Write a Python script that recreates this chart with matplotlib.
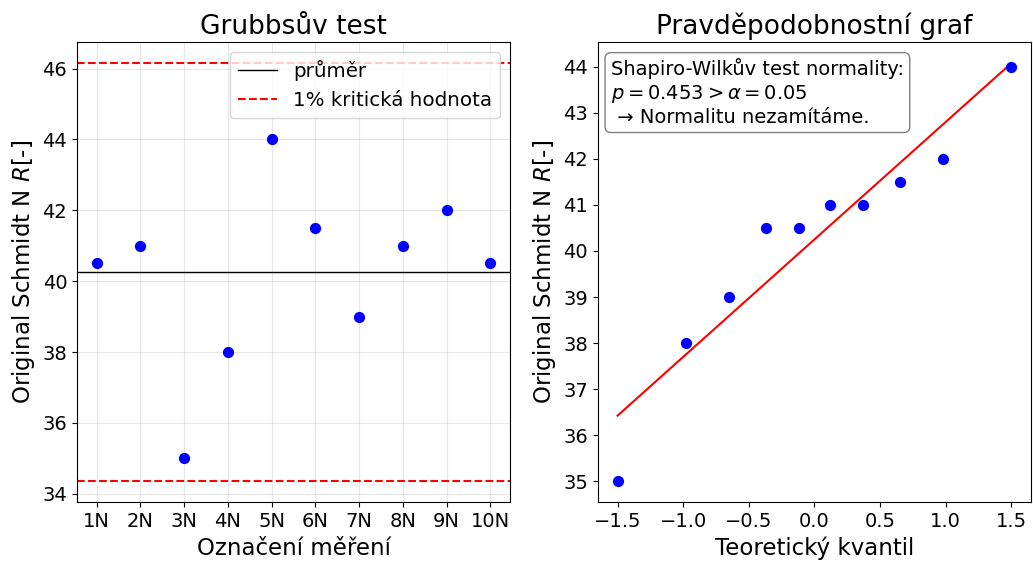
import numpy as np
import matplotlib
matplotlib.use("Agg")
import matplotlib.pyplot as plt

# Measured rebound values (Original Schmidt N)
labels = ["1N", "2N", "3N", "4N", "5N", "6N", "7N", "8N", "9N", "10N"]
values = [40.5, 41.0, 35.0, 38.0, 44.0, 41.5, 39.0, 41.0, 42.0, 40.5]

# Grubbs test limits
crit_upper = 46.15
crit_lower = 34.35

# Theoretical normal quantiles for n = 10
quantiles = [-1.50, -0.98, -0.65, -0.37, -0.12, 0.12, 0.37, 0.65, 0.98, 1.50]

plt.rcParams["font.family"] = ["DejaVu Sans"]

fig, (ax1, ax2) = plt.subplots(1, 2, figsize=(10.33, 5.65), dpi=100)
fig.subplots_adjust(left=0.0745, right=0.998, top=0.925, bottom=0.111, wspace=0.203)

# Grubbs test
x = np.arange(len(values))
mean = np.mean(values)
ax1.scatter(x, values, color="blue", s=50, zorder=3)
ax1.axhline(mean, color="black", lw=1, label="průměr")
ax1.axhline(crit_upper, color="red", ls="--", lw=1.5, label="1% kritická hodnota")
ax1.axhline(crit_lower, color="red", ls="--", lw=1.5)
ax1.set_xticks(x)
ax1.set_xticklabels(labels)
ax1.tick_params(labelsize=14)
ax1.set_title("Grubbsův test", fontsize=19)
ax1.set_xlabel("Označení měření", fontsize=16.5)
ax1.set_ylabel("Original Schmidt N $R$[-]", fontsize=16.5)
ax1.grid(True, alpha=0.3)
ax1.legend(loc="upper right", fontsize=14.3)

# Probability plot
sorted_vals = np.sort(values)
slope, intercept = np.polyfit(quantiles, sorted_vals, 1)
q = np.array(quantiles)
ax2.plot(q, slope * q + intercept, color="red", lw=1.5)
ax2.scatter(q, sorted_vals, color="blue", s=50, zorder=3)
ax2.set_yticks(np.arange(35, 45, 1))
ax2.set_title("Pravděpodobnostní graf", fontsize=19)
ax2.set_xlabel("Teoretický kvantil", fontsize=16.5)
ax2.set_ylabel("Original Schmidt N $R$[-]", fontsize=16.5)
ax2.tick_params(labelsize=14)
ax2.text(0.03, 0.965,
         "Shapiro-Wilkův test normality:\n$p = 0.453 > \\alpha = 0.05$\n → Normalitu nezamítáme.",
         transform=ax2.transAxes, fontsize=14, va="top", ha="left",
         bbox=dict(boxstyle="round", fc="white", ec="gray"))

fig.savefig("out.png")
